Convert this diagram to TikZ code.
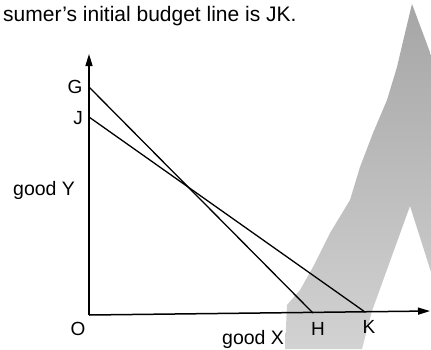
\documentclass[tikz,border=0pt]{standalone}
\usepackage{fontspec}
\setmainfont{Liberation Sans}
\usetikzlibrary{arrows.meta}
\begin{document}
\begin{tikzpicture}[x=1pt,y=-1pt,
  lbl/.style={font=\fontsize{19}{21}\selectfont, inner sep=0pt, anchor=base},
  txt/.style={font=\fontsize{19.5}{22}\selectfont, inner sep=0pt, anchor=base west},
  axis/.style={line width=1.5pt, -{Triangle[length=12pt,width=7pt]}},
  budget/.style={line width=1.3pt},
  smudge/.style={top color=gray!70, bottom color=gray!35, draw=none}]
\useasboundingbox (0,0) rectangle (431,349);
% scanning smudge
\path[smudge] (412,4) -- (431,55) -- (431,272) -- (410,206) -- (372,311) -- (362,349) -- (285,349) -- (287,305) -- (300,290) -- (313,267) -- (330,233) -- (350,200) -- (360,167) -- (373,133) -- (387,100) -- (397,67) -- (405,33) -- cycle;
% points
\coordinate (O) at (89,315);
\coordinate (G) at (89,87);
\coordinate (J) at (89,117);
\coordinate (H) at (313,313);
\coordinate (K) at (365,312);
\coordinate (xend) at (430,311);
\coordinate (yend) at (89,54);
% axes and lines
\draw[axis] (O) -- (yend);
\draw[axis] (O) -- (xend);
\draw[budget] (G) -- (H);
\draw[budget] (J) -- (K);
% texts
\node[txt, font=\fontsize{21}{24}\selectfont] (title) at (3,21) {sumer's initial budget line is JK.};
\node[lbl] (Glbl) at (75,93) {G};
\node[lbl] (Jlbl) at (78,124) {J};
\node[txt] (ylbl) at (13,195) {good Y};
\node[lbl] (Olbl) at (78,335) {O};
\node[txt] (xlbl) at (222,344) {good X};
\node[lbl] (Hlbl) at (318,335) {H};
\node[lbl] (Klbl) at (369,333) {K};
\end{tikzpicture}
\end{document}
